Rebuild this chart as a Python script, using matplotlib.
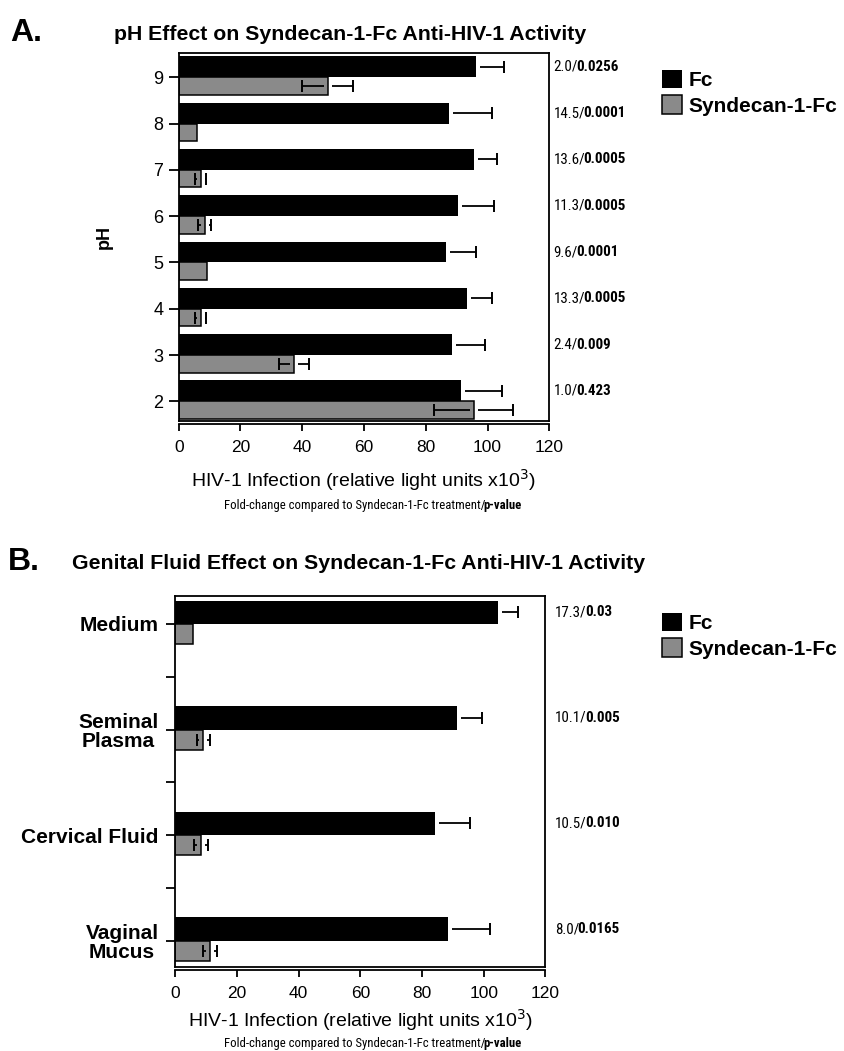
"""pH and genital-fluid effect on Syndecan-1-Fc anti-HIV-1 activity (two horizontal bar panels)."""
import matplotlib

matplotlib.use("Agg")

import matplotlib.pyplot as plt  # noqa: E402
from matplotlib import font_manager  # noqa: E402
from matplotlib.ticker import FixedLocator  # noqa: E402

# ---- panel A: pH ----
ph = [2, 3, 4, 5, 6, 7, 8, 9]
fc_ph = [91.5, 88.4, 93.3, 86.7, 90.3, 95.7, 87.4, 96.3]
fc_ph_err = [13.1, 10.8, 8.2, 9.6, 11.9, 7.5, 14.1, 8.9]
syn_ph = [95.5, 37.3, 7.1, 9.1, 8.4, 7.1, 6.0, 48.2]
syn_ph_err = [12.9, 4.8, 1.9, 0.0, 2.2, 1.9, 0.0, 8.2]
fold_ph = ["1.0", "2.4", "13.3", "9.6", "11.3", "13.6", "14.5", "2.0"]
pval_ph = ["0.423", "0.009", "0.0005", "0.0001", "0.0005", "0.0005", "0.0001", "0.0256"]

# ---- panel B: genital fluids (top to bottom) ----
fluids = ["Medium", "Seminal\nPlasma", "Cervical Fluid", "Vaginal\nMucus"]
fc_fl = [104.6, 91.5, 84.2, 88.5]
fc_fl_err = [6.5, 7.9, 11.4, 13.6]
syn_fl = [5.9, 9.0, 8.3, 11.2]
syn_fl_err = [0.0, 2.1, 2.2, 2.2]
fold_fl = ["17.3", "10.1", "10.5", "8.0"]
pval_fl = ["0.03", "0.005", "0.010", "0.0165"]

FC_COLOR = "black"
SYN_COLOR = "#8a8a8a"
W, H = 844, 1051
XLABEL = "HIV-1 Infection (relative light units x10$^3$)"


def pick_font(cands):
    for c in cands:
        try:
            font_manager.findfont(c, fallback_to_default=False)
            return c
        except ValueError:
            pass
    return cands[-1]


MAIN = pick_font(["Liberation Sans", "DejaVu Sans"])
NARROW = pick_font(["Liberation Sans Narrow", "Roboto Condensed", "Liberation Sans"])
plt.rcParams["font.family"] = [MAIN, "DejaVu Sans"]


def fig_rect(left, top, right, bottom):
    return [left / W, 1 - bottom / H, (right - left) / W, (bottom - top) / H]


def err_bars(ax, vals, errs, pos, gap, ms):
    """Error whiskers drawn off the bar end with a small gap, capped both sides."""
    for v, e, y in zip(vals, errs, pos):
        if e <= 0:
            continue
        if e > gap:
            ax.hlines([y, y], [v + gap, v - e], [v + e, v - gap], color="black", lw=1.3)
        ax.plot([v - e, v + e], [y, y], ls="none", marker="|", ms=ms, mew=1.4, color="black")


def bold_tail(ax, first, text, size):
    ax.annotate(text, xy=(1, 0), xycoords=first, xytext=(-1.2, 0), textcoords="offset points",
                va="bottom", ha="left", fontsize=size, family=NARROW, fontweight="bold",
                annotation_clip=False)


def side_labels(ax, folds, pvals, pos, dx):
    for f, p, y in zip(folds, pvals, pos):
        t = ax.annotate(f + "/", xy=(1, y), xycoords=("axes fraction", "data"), xytext=(dx, 0),
                        textcoords="offset points", va="center", ha="left", fontsize=10.8,
                        family=NARROW, annotation_clip=False)
        bold_tail(ax, t, p, 10.8)


def footnote(fig, ax, x, y):
    t = fig.text(x / W, 1 - y / H, "Fold-change compared to Syndecan-1-Fc treatment/",
                 va="center", ha="left", fontsize=9.2, family=NARROW)
    bold_tail(ax, t, "p-value", 9.2)


def style_axes(ax):
    for s in ax.spines.values():
        s.set_linewidth(1.3)
    ax.spines["bottom"].set_position(("outward", 2.5))
    ax.axhline(ax.get_ylim()[0], color="black", lw=1.3, clip_on=False)
    ax.set_xlim(0, 120)
    ax.set_xticks(range(0, 121, 20))
    ax.tick_params(axis="x", direction="out", length=5, width=1.3, labelsize=12.5, pad=6)


fig = plt.figure(figsize=(W / 100, H / 100), dpi=100)

# ---------------- panel A ----------------
axa = fig.add_axes(fig_rect(178.7, 53.3, 549.3, 421))
hb, hg = 0.45, 0.38
ba = axa.barh(ph, fc_ph, height=hb, align="edge", color=FC_COLOR, label="Fc")
ga = axa.barh(ph, syn_ph, height=-hg, align="edge", color=SYN_COLOR, edgecolor="black",
              linewidth=1.1, label="Syndecan-1-Fc")
err_bars(axa, fc_ph, fc_ph_err, [p + hb / 2 for p in ph], 1.3, 9)
err_bars(axa, syn_ph, syn_ph_err, [p - hg / 2 for p in ph], 1.3, 9)
axa.set_ylim(ph[0] - 0.425, ph[-1] + 0.518)
style_axes(axa)
axa.set_yticks(ph)
axa.tick_params(axis="y", direction="out", length=7, width=1.3, labelsize=13, pad=4)
axa.set_ylabel("pH", fontsize=13, fontweight="bold")
axa.yaxis.set_label_coords(-0.177, 0.5)
axa.set_xlabel(XLABEL, fontsize=14, va="top")
axa.xaxis.set_label_coords(0.5, -0.125)
side_labels(axa, fold_ph, pval_ph, [p + hb / 2 for p in ph], 3)
footnote(fig, axa, 224, 505)
axa.legend(handles=[ba, ga], loc="upper left", bbox_to_anchor=(662 / W, 1 - 70 / H),
           bbox_transform=fig.transFigure, frameon=False, prop={"weight": "bold", "size": 15},
           handlelength=0.96, handleheight=0.96, handletextpad=0.3, labelspacing=0.25,
           borderpad=0, borderaxespad=0)

fig.text(10 / W, 1 - 41 / H, "A.", fontsize=23, fontweight="bold", va="baseline")
fig.text(114 / W, 1 - 40 / H, "pH Effect on Syndecan-1-Fc Anti-HIV-1 Activity", fontsize=15.3,
         fontweight="bold", va="baseline")

# ---------------- panel B ----------------
axb = fig.add_axes(fig_rect(175.3, 596, 545.3, 967))
pos = list(range(len(fluids)))
hb2, hg2 = 0.22, 0.19
bb = axb.barh(pos, fc_fl, height=-hb2, align="edge", color=FC_COLOR, label="Fc")
gb = axb.barh(pos, syn_fl, height=hg2, align="edge", color=SYN_COLOR, edgecolor="black",
              linewidth=1.1, label="Syndecan-1-Fc")
err_bars(axb, fc_fl, fc_fl_err, [p - hb2 / 2 for p in pos], 1.3, 9)
err_bars(axb, syn_fl, syn_fl_err, [p + hg2 / 2 for p in pos], 1.3, 9)
axb.set_ylim(pos[-1] + 0.25, pos[0] - 0.265)
style_axes(axb)
axb.set_yticks(pos)
axb.set_yticklabels(fluids, fontsize=15, fontweight="bold", multialignment="center",
                    linespacing=1.0)
axb.yaxis.set_minor_locator(FixedLocator([p + 0.5 for p in pos[:-1]]))
axb.tick_params(axis="y", which="both", direction="out", length=6.5, width=1.3, pad=5.5)
axb.set_xlabel(XLABEL, fontsize=14, va="top")
axb.xaxis.set_label_coords(0.5, -0.108)
side_labels(axb, fold_fl, pval_fl, [p - hb2 / 2 for p in pos], 7)
footnote(fig, axb, 224, 1043)
axb.legend(handles=[bb, gb], loc="upper left", bbox_to_anchor=(662 / W, 1 - 613 / H),
           bbox_transform=fig.transFigure, frameon=False, prop={"weight": "bold", "size": 15},
           handlelength=0.96, handleheight=0.96, handletextpad=0.3, labelspacing=0.25,
           borderpad=0, borderaxespad=0)

fig.text(8 / W, 1 - 570 / H, "B.", fontsize=23, fontweight="bold", va="baseline")
fig.text(72 / W, 1 - 569 / H, "Genital Fluid Effect on Syndecan-1-Fc Anti-HIV-1 Activity",
         fontsize=15.3, fontweight="bold", va="baseline")

fig.savefig("out.png", dpi=100)
